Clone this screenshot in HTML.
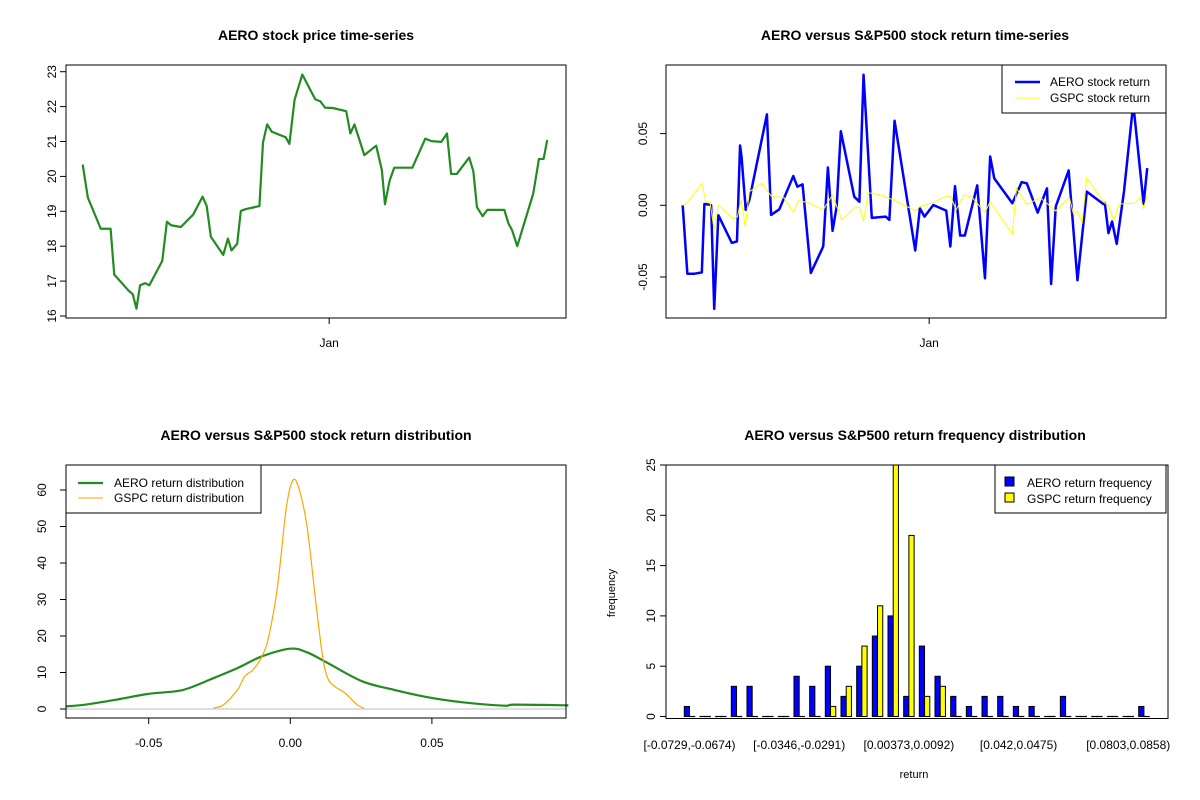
<!DOCTYPE html>
<html><head><meta charset="utf-8"><style>
html,body{margin:0;padding:0;background:#fff}
svg{display:block;font-family:"Liberation Sans",Arial,sans-serif}
</style></head><body>
<svg id="chart" width="1200" height="800" viewBox="0 0 1200 800" xmlns="http://www.w3.org/2000/svg"></svg>
<script>
// ---------- data ----------
const priceDays=[0,1.0,3.5,5.4,6.1,8.8,9.7,10.4,11.1,12.1,12.9,15.4,16.3,17.1,19.0,21.4,23.2,24.0,24.8,27.2,28.1,28.8,29.9,30.6,31.5,34.2,34.9,35.7,36.6,39.3,40.0,41.0,42.5,45.0,46.0,46.9,48.4,51.0,51.8,52.6,54.5,56.8,57.9,58.5,59.4,60.3,63.8,66.3,67.5,69.4,70.5,71.3,72.4,74.8,75.6,76.3,77.4,78.3,81.6,82.4,83.1,84.1,87.2,88.3,89.2,89.9];
const priceValues=[20.34,19.39,18.50,18.50,17.19,16.74,16.62,16.21,16.88,16.94,16.88,17.58,18.70,18.60,18.55,18.91,19.42,19.15,18.27,17.75,18.22,17.88,18.07,19.01,19.06,19.15,20.98,21.49,21.28,21.12,20.93,22.19,22.92,22.21,22.15,21.97,21.96,21.87,21.23,21.49,20.61,20.88,20.18,19.20,19.88,20.25,20.25,21.08,21.01,20.99,21.23,20.07,20.07,20.54,20.15,19.12,18.86,19.04,19.04,18.65,18.46,18.00,19.51,20.50,20.50,21.04];
const aeroDays=[0,0.9,2.3,3.7,4.2,5.2,5.5,6.1,6.9,9.5,10.5,11.1,11.4,12.2,12.9,16.3,17.1,18.7,21.4,22.2,23.2,24.8,27.2,28.1,29.0,29.8,30.6,33.2,34.2,35.0,36.6,39.3,40.0,41.0,45.0,45.9,46.8,48.5,51.0,51.8,52.7,53.7,54.6,57.0,58.5,59.5,60.3,63.8,65.6,66.6,68.7,70.5,71.3,72.2,74.7,76.4,78.2,81.4,81.7,82.4,83.1,84.0,85.4,87.2,89.2,89.9];
const aeroReturns=[0,-0.0477,-0.0477,-0.0468,0.0009,0.0005,0,-0.0722,-0.0069,-0.0262,-0.0252,0.0417,0.0333,-0.0032,0.0037,0.0634,-0.0067,-0.0028,0.0204,0.0130,0.0146,-0.0472,-0.0287,0.0264,-0.0178,-0.0009,0.0516,0.0060,0.0025,0.0910,-0.0088,-0.0079,-0.0102,0.0590,-0.0315,-0.0021,-0.0079,0.0002,-0.0037,-0.0287,0.0134,-0.0211,-0.0211,0.0139,-0.0509,0.0340,0.0188,0.0014,0.0162,0.0153,-0.0051,0.0118,-0.0549,-0.0009,0.0243,-0.0523,0.0095,0.0009,0.0016,-0.0194,-0.0113,-0.0269,0.0095,0.0708,0.0009,0.0259];
const gspcDays=[0,0.8,3.7,4.5,5.3,6.1,6.9,9.8,10.6,11.3,12.1,12.9,15.3,17.1,19.6,21.4,22.4,24.3,27.2,29.0,30.8,33.4,34.2,35.0,35.9,38.3,40.8,45.0,45.9,48.5,51.0,51.9,52.9,54.5,56.0,58.5,59.5,63.8,64.6,66.6,69.2,72.2,74.8,75.6,76.4,77.3,78.2,81.4,82.4,83.4,84.5,87.5,88.5,89.2,89.9];
const gspcReturns=[0,0.0014,0.0153,0.0025,0.0014,-0.0171,0,-0.0095,-0.0079,0.0042,-0.0148,0.0095,0.0153,0.0065,0.0053,-0.0049,0.0032,0.0019,-0.0032,0.0072,-0.0102,-0.0012,-0.0016,-0.0109,0.0088,0.0072,0.0037,-0.0037,-0.0009,0.0019,0.0065,0.0060,-0.0032,0.0072,0.0056,-0.0049,0.0025,-0.0201,0.0118,0.0007,0.0053,-0.0039,0.0056,-0.0056,-0.0044,-0.0120,0.0194,0.0025,-0.0002,-0.0102,0.0009,0.0014,0.0056,-0.0021,0.0072];
const janDay=47.7;
const priceTicks=[16,17,18,19,20,21,22,23];
const returnTicks=[-0.05,0,0.05];
const returnTickLabels=["-0.05","0.00","0.05"];
const aeroDensX=[-0.0793,-0.0724,-0.0614,-0.0504,-0.0406,-0.0357,-0.0284,-0.0186,-0.0100,0,0.0059,0.0132,0.0254,0.0364,0.0487,0.0609,0.0755,0.0792,0.0982];
const aeroDensY=[0.73,1.19,2.56,4.11,4.84,5.75,8.04,11.23,14.43,16.53,15.53,12.60,7.58,5.30,3.20,1.83,0.91,1.19,1.0];
const gspcDensX=[-0.0271,-0.0235,-0.0186,-0.0161,-0.0131,-0.0100,-0.0076,-0.0045,-0.0015,0.0007,0.0028,0.0059,0.0089,0.0114,0.0132,0.0156,0.0193,0.0236,0.0260];
const gspcDensY=[0.27,1.19,5.30,8.95,10.78,14.43,19.91,33.61,54.61,62.37,61.0,50.05,29.95,14.43,8.49,6.21,4.38,1.19,0.18];
const densXTicks=[-0.05,0,0.05];
const densXTickLabels=["-0.05","0.00","0.05"];
const densYTicks=[0,10,20,30,40,50,60];
const binBreaks=["-0.0729","-0.0674","-0.062","-0.0565","-0.051","-0.0455","-0.0401","-0.0346","-0.0291","-0.0237","-0.0182","-0.0127","-0.00722","-0.00175","0.00373","0.0092","0.0147","0.0201","0.0256","0.0311","0.0366","0.042","0.0475","0.053","0.0584","0.0639","0.0694","0.0748","0.0803","0.0858","0.0913"];
const aeroCounts=[1,0,0,3,3,0,0,4,3,5,2,5,8,10,2,7,4,2,1,2,2,1,1,0,2,0,0,0,0,1];
const gspcCounts=[0,0,0,0,0,0,0,0,0,1,3,7,11,25,18,2,3,0,0,0,0,0,0,0,0,0,0,0,0,0];
const freqTicks=[0,5,10,15,20,25];

// ---------- helpers ----------
const NS="http://www.w3.org/2000/svg";
const svg=document.getElementById('chart');
function mk(tag,attrs,parent){const e=document.createElementNS(NS,tag);for(const k in attrs)e.setAttribute(k,attrs[k]);(parent||svg).appendChild(e);return e;}
function txt(x,y,s,size,opts,parent){const t=mk('text',Object.assign({x:x,y:y,'font-size':size,'text-anchor':'middle',fill:'#000'},opts||{}),parent);t.textContent=s;return t;}
function pts(xs,ys,fx,fy){return xs.map((v,i)=>fx(v).toFixed(2)+','+fy(ys[i]).toFixed(2)).join(' ');}
function smooth(xs,ys,fx,fy){
  const P=xs.map((v,i)=>[fx(v),fy(ys[i])]);
  let d='M'+P[0][0].toFixed(2)+','+P[0][1].toFixed(2);
  for(let i=0;i<P.length-1;i++){
    const p0=P[Math.max(0,i-1)],p1=P[i],p2=P[i+1],p3=P[Math.min(P.length-1,i+2)];
    const c1=[p1[0]+(p2[0]-p0[0])/6,p1[1]+(p2[1]-p0[1])/6];
    const c2=[p2[0]-(p3[0]-p1[0])/6,p2[1]-(p3[1]-p1[1])/6];
    d+=' C'+c1.map(n=>n.toFixed(2)).join(',')+' '+c2.map(n=>n.toFixed(2)).join(',')+' '+p2.map(n=>n.toFixed(2)).join(',');
  }
  return d;
}

// ---------- panel 1: price ----------
const xD1=d=>82.7+d*5.167, yP=v=>71.7+(23-v)*34.9;
let e;
e=txt(316,40,'AERO stock price time-series',14,{'font-weight':'bold'});


e=mk('polyline',{points:pts(priceDays,priceValues,xD1,yP),fill:'none',stroke:'#228B22','stroke-width':2.2,'stroke-linejoin':'round'});


e=mk('rect',{x:66,y:65,width:500,height:253,fill:'none',stroke:'#000','stroke-width':1});


priceTicks.forEach(v=>{
  const y=yP(v);
  e=mk('line',{x1:60,x2:66,y1:y,y2:y,stroke:'#000'});
  
  
  e=txt(0,0,String(v),12,{transform:`translate(56,${y}) rotate(-90)`});
  
  
});
e=mk('line',{x1:xD1(janDay),x2:xD1(janDay),y1:318,y2:324,stroke:'#000'});


e=txt(xD1(janDay),347,'Jan',12);



// ---------- panel 2: returns ----------
const xD2=d=>682.7+d*5.167, yR=v=>205.3-v*1434;
e=txt(915,40,'AERO versus S&P500 stock return time-series',14,{'font-weight':'bold'});


const clip=mk('clipPath',{id:'c2'});mk('rect',{x:666,y:65,width:500,height:253},clip);
e=mk('polyline',{points:pts(aeroDays,aeroReturns,xD2,yR),fill:'none',stroke:'#0000FF','stroke-width':2.5,'stroke-linejoin':'round','clip-path':'url(#c2)'});


e=mk('polyline',{points:pts(gspcDays,gspcReturns,xD2,yR),fill:'none',stroke:'#FFFF00','stroke-width':1,'clip-path':'url(#c2)'});


e=mk('rect',{x:666,y:65,width:500,height:253,fill:'none',stroke:'#000'});


returnTicks.forEach((v,i)=>{
  const y=yR(v);
  e=mk('line',{x1:660,x2:666,y1:y,y2:y,stroke:'#000'});
  
  
  e=txt(0,0,returnTickLabels[i],12,{transform:`translate(647,${y}) rotate(-90)`});
  
  
});
e=mk('line',{x1:xD2(janDay),x2:xD2(janDay),y1:318,y2:324,stroke:'#000'});


e=txt(xD2(janDay),347,'Jan',12);


e=mk('rect',{x:1002,y:65,width:164,height:48,fill:'#fff',stroke:'#000'});


e=mk('line',{x1:1015,x2:1040,y1:82,y2:82,stroke:'#0000FF','stroke-width':2.5});


e=txt(1050,86,'AERO stock return',12,{'text-anchor':'start'});


e=mk('line',{x1:1015,x2:1040,y1:98,y2:98,stroke:'#FFFF00','stroke-width':1});


e=txt(1050,102,'GSPC stock return',12,{'text-anchor':'start'});



// ---------- panel 3: density ----------
const xS=x=>290.3+x*2832, yS=v=>709-v*3.65;
e=txt(316,440,'AERO versus S&P500 stock return distribution',14,{'font-weight':'bold'});


e=mk('line',{x1:66,x2:566,y1:yS(0),y2:yS(0),stroke:'#BEBEBE'});


e=mk('path',{d:smooth(aeroDensX,aeroDensY,xS,yS),fill:'none',stroke:'#228B22','stroke-width':2.2,'stroke-linejoin':'round'});


e=mk('path',{d:smooth(gspcDensX,gspcDensY,xS,yS),fill:'none',stroke:'#FFA500','stroke-width':1.2,'stroke-linejoin':'round'});


e=mk('rect',{x:66,y:465,width:500,height:253,fill:'none',stroke:'#000'});


densYTicks.forEach(v=>{
  const y=yS(v);
  e=mk('line',{x1:60,x2:66,y1:y,y2:y,stroke:'#000'});
  
  
  e=txt(0,0,String(v),12,{transform:`translate(46,${y}) rotate(-90)`});
  
  
});
densXTicks.forEach((v,i)=>{
  const x=xS(v);
  e=mk('line',{x1:x,x2:x,y1:718,y2:724,stroke:'#000'});
  
  
  e=txt(x,747,densXTickLabels[i],12);
  
  
});
e=mk('rect',{x:66,y:465,width:195,height:48,fill:'#fff',stroke:'#000'});


e=mk('line',{x1:78,x2:103,y1:483,y2:483,stroke:'#228B22','stroke-width':2.2});


e=txt(114,487,'AERO return distribution',12,{'text-anchor':'start'});


e=mk('line',{x1:78,x2:103,y1:498,y2:498,stroke:'#FFA500','stroke-width':1});


e=txt(114,502,'GSPC return distribution',12,{'text-anchor':'start'});



// ---------- panel 4: histogram ----------
const uw=5.223, xU=u=>665.7+(u+2.56)*uw, yC=c=>716.5-c*10.06;
e=txt(915,440,'AERO versus S&P500 return frequency distribution',14,{'font-weight':'bold'});


function bar(u,c,fill){
  let el;
  if(c>0){
    el=mk('rect',{x:xU(u),y:yC(c),width:uw,height:yC(0)-yC(c),fill:fill,stroke:'#000','stroke-width':1});
  }else{
    el=mk('line',{x1:xU(u)-0.5,x2:xU(u)+uw+0.5,y1:yC(0),y2:yC(0),stroke:'#000','stroke-width':1.2});
  }
  return el;
}
aeroCounts.forEach((c,g)=>{
  const u=1+3*g;
  e=bar(u,c,'#0000FF');
  
  
  e=bar(u+1,gspcCounts[g],'#FFFF00');
  
  
  if(g%7===0){
    e=txt(xU(u+1),749,'['+binBreaks[g]+','+binBreaks[g+1]+')',12);
    
    
  }
});
e=mk('rect',{x:666,y:465,width:502,height:253.5,fill:'none',stroke:'#000'});


freqTicks.forEach(v=>{
  const y=yC(v);
  e=mk('line',{x1:660,x2:666,y1:y,y2:y,stroke:'#000'});
  
  
  e=txt(0,0,String(v),12,{transform:`translate(655,${y}) rotate(-90)`});
  
  
});
e=txt(0,0,'frequency',11,{transform:'translate(615,593) rotate(-90)'});


e=txt(914,778,'return',11);


e=mk('rect',{x:995,y:465,width:171,height:48,fill:'#fff',stroke:'#000'});


e=mk('rect',{x:1005,y:477,width:9,height:9,fill:'#0000FF',stroke:'#000'});


e=txt(1027,487,'AERO return frequency',12,{'text-anchor':'start'});


e=mk('rect',{x:1005,y:493,width:9,height:9,fill:'#FFFF00',stroke:'#000'});


e=txt(1027,503,'GSPC return frequency',12,{'text-anchor':'start'});


</script>
</body></html>
